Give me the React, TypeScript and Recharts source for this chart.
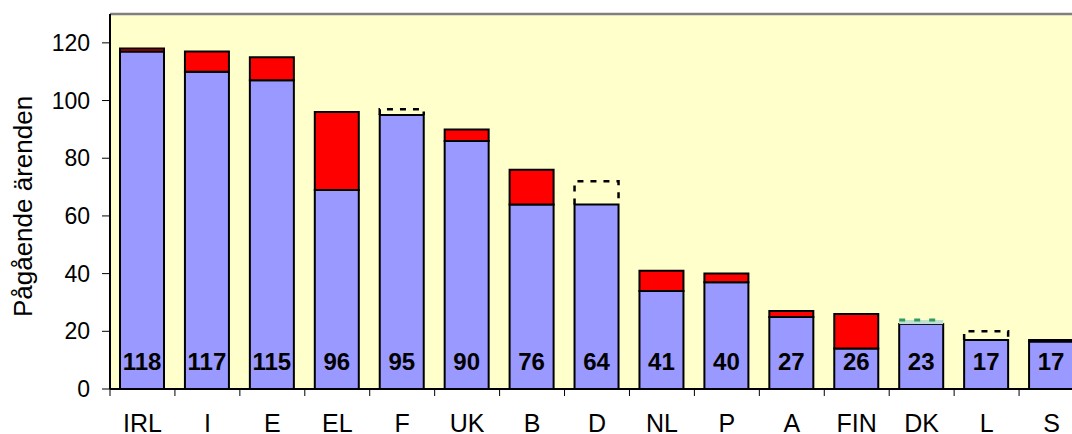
import { BarChart, Bar, XAxis, YAxis, ReferenceLine, LabelList, CartesianGrid } from 'recharts';

const categories = ['IRL', 'I', 'E', 'EL', 'F', 'UK', 'B', 'D', 'NL', 'P', 'A', 'FIN', 'DK', 'L', 'S'];
const totals = [118, 117, 115, 96, 95, 90, 76, 64, 41, 40, 27, 26, 23, 17, 17];
const baseValues = [117, 110, 107, 69, 95, 86, 64, 64, 34, 37, 25, 14, 22.5, 17, 16.5];
const redValues = [1, 7, 8, 27, 0, 4, 12, 0, 7, 3, 2, 12, 0, 0, 0.5];
const dashedValues = [0, 0, 0, 0, 2, 0, 0, 8, 0, 0, 0, 0, 0, 3, 0];
const greenValues = [0, 0, 0, 0, 0, 0, 0, 0, 0, 0, 0, 0, 1.4, 0, 0];
const yTicks = [0, 20, 40, 60, 80, 100, 120];

const data = categories.map((name, i) => ({
  name,
  total: totals[i],
  base: baseValues[i],
  red: redValues[i],
  dashed: dashedValues[i],
  green: greenValues[i],
}));

const FONT = '"Liberation Sans", Arial, sans-serif';

// open-bottom dashed box on top of the bar
const DashedShape = (props: any) => {
  const { x, y, width, height } = props;
  if (!height) return null;
  return (
    <path
      d={`M${x},${y + height} L${x},${y} L${x + width},${y} L${x + width},${y + height}`}
      fill="none"
      stroke="#000"
      strokeWidth={2.5}
      strokeDasharray="6 7"
    />
  );
};

const GreenShape = (props: any) => {
  const { x, y, width, height } = props;
  if (!height) return null;
  return (
    <g>
      <rect x={x} y={y} width={width} height={height} fill="#C0E0D0" />
      <path d={`M${x},${y} L${x + width},${y}`} stroke="#339966" strokeWidth={3} strokeDasharray="6 9" />
    </g>
  );
};

const XTick = (props: any) => {
  const { x, y, payload } = props;
  const band = 974 / categories.length;
  return (
    <g>
      <line x1={x - band / 2} y1={y - 8} x2={x - band / 2} y2={y - 1} stroke="#000" strokeWidth={1} />
      <text x={x} y={y + 35} textAnchor="middle" fontFamily={FONT} fontSize={25} fill="#000">
        {payload.value}
      </text>
    </g>
  );
};

const TotalLabel = (props: any) => {
  const { x, y, width, height, value } = props;
  return (
    <text
      x={x + width / 2}
      y={y + height - 19}
      textAnchor="middle"
      fontFamily={FONT}
      fontSize={24}
      fontWeight="bold"
      fill="#000"
    >
      {value}
    </text>
  );
};

const YTitle = (props: any) => {
  const { viewBox } = props;
  const cy = viewBox.y + viewBox.height / 2 + 5;
  const cx = 32;
  return (
    <text
      x={cx}
      y={cy}
      textAnchor="middle"
      transform={`rotate(-90, ${cx}, ${cy})`}
      fontFamily={FONT}
      fontSize={26}
      fill="#000"
    >
      Pågående ärenden
    </text>
  );
};

export default function App() {
  return (
    <div style={{ position: 'fixed', left: 0, top: 0, width: 1072, height: 434, overflow: 'hidden', background: '#fff' }}>
      <BarChart width={1100} height={434} data={data} margin={{ top: 14, right: 16, left: 0, bottom: 0 }}>
        <CartesianGrid horizontal={false} vertical={false} fill="#FFFFCC" />
        <XAxis
          dataKey="name"
          height={45}
          tick={<XTick />}
          tickLine={false}
          axisLine={{ stroke: '#000', strokeWidth: 2 }}
          interval={0}
        />
        <YAxis
          width={110}
          domain={[0, 130]}
          ticks={yTicks}
          tickSize={8}
          tickMargin={12}
          tick={{ fontFamily: FONT, fontSize: 23, fill: '#000' }}
          tickLine={{ stroke: '#000' }}
          axisLine={{ stroke: '#000', strokeWidth: 2 }}
          label={<YTitle />}
        />
        <ReferenceLine y={130} stroke="#808080" strokeWidth={2.5} />
        <Bar dataKey="base" stackId="a" fill="#9999FF" stroke="#000" strokeWidth={2} barSize={44} isAnimationActive={false}>
          <LabelList dataKey="total" content={<TotalLabel />} />
        </Bar>
        <Bar dataKey="red" stackId="a" fill="#FF0000" stroke="#000" strokeWidth={2} barSize={44} isAnimationActive={false} />
        <Bar dataKey="green" stackId="a" shape={<GreenShape />} barSize={44} isAnimationActive={false} />
        <Bar dataKey="dashed" stackId="a" shape={<DashedShape />} barSize={44} isAnimationActive={false} />
      </BarChart>
    </div>
  );
}
